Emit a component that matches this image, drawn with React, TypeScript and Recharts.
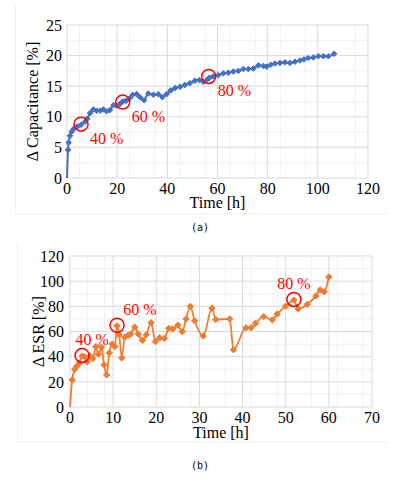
import { LineChart, Line, XAxis, YAxis, CartesianGrid, ReferenceDot } from 'recharts';

// (a) capacitance change vs time
const capTime = [
  0, 0.4, 0.7, 1.2, 1.9, 2.8, 4.1, 5.6, 7.2, 8.1, 9.2, 10.5, 11.8, 13.2, 14.5, 15.8, 17.1, 18.5, 19.8, 21.1,
  22.2, 23.5, 24.9, 26.2, 27.8, 29.1, 30.7, 32.4, 34.4, 36.4, 38.0, 39.7, 41.3, 43.1, 45.1, 47.0, 49.0, 51.0,
  52.8, 54.4, 56.0, 56.8, 58.3, 60.3, 62.3, 64.3, 66.3, 68.3, 70.3, 72.3, 74.3, 76.3, 78.3, 79.6, 81.2, 82.9,
  84.9, 86.9, 88.9, 90.9, 92.9, 94.5, 96.2, 98.2, 100.2, 102.2, 104.2, 106.5,
];
const capValue = [
  0, 4.6, 5.8, 6.9, 7.6, 8.1, 8.4, 8.7, 9.2, 9.7, 10.6, 11.2, 11.0, 11.0, 11.2, 10.9, 11.1, 11.9, 11.8, 12.1,
  12.5, 12.6, 13.0, 13.6, 13.7, 13.2, 12.7, 13.8, 13.6, 13.7, 13.2, 13.7, 14.3, 14.7, 14.9, 15.2, 15.5, 15.9,
  16.0, 15.7, 16.1, 16.4, 16.6, 16.8, 17.1, 17.2, 17.4, 17.5, 17.8, 17.8, 17.9, 18.4, 18.3, 18.2, 18.5, 18.7,
  18.8, 18.9, 18.8, 19.0, 19.2, 19.4, 19.6, 19.7, 19.9, 19.9, 19.9, 20.3,
];
const capXTicks = [0, 20, 40, 60, 80, 100, 120];
const capYTicks = [0, 5, 10, 15, 20, 25];
const capMinorX = [5, 10, 15, 25, 30, 35, 45, 50, 55, 65, 70, 75, 85, 90, 95, 105, 110, 115];
const capMinorY = [2.5, 7.5, 12.5, 17.5, 22.5];
const capNotes = [
  { t: 5.6, v: 8.8, text: '40 %' },
  { t: 22.2, v: 12.4, text: '60 %' },
  { t: 56.5, v: 16.6, text: '80 %' },
];

// (b) ESR change vs time
const esrTime = [
  0, 0.5, 1.1, 1.6, 2.2, 2.8, 3.4, 4.0, 4.7, 5.3, 6.0, 6.6, 7.3, 7.9, 8.5, 9.1, 9.8, 10.4, 10.9, 11.4, 12.0,
  12.7, 13.5, 14.1, 15.0, 15.8, 16.8, 17.7, 18.8, 19.8, 20.8, 21.9, 22.9, 23.8, 25.0, 26.0, 26.9, 27.9, 28.9,
  30.9, 32.9, 33.8, 37.0, 37.9, 40.8, 42.0, 43.0, 44.9, 46.9, 48.0, 50.0, 51.9, 52.9, 55.0, 57.0, 58.0, 58.9, 60.0,
];
const esrValue = [
  0, 21.5, 30, 32.5, 35, 40.5, 40, 36, 40.5, 38.5, 48, 42, 47.5, 33.5, 25.5, 43, 50, 48, 64.5, 57.5, 39,
  55.5, 57, 58, 63.5, 58, 53, 57.5, 67, 52, 55, 54.5, 62.5, 62, 65, 60, 70, 80, 68.5,
  56.5, 78.5, 69.5, 70, 45.5, 63, 63, 66.5, 71.8, 69.3, 73.8, 80.2, 85, 78, 81.6, 88.3, 93, 91.6, 103.3,
];
const esrXTicks = [0, 10, 20, 30, 40, 50, 60, 70];
const esrYTicks = [0, 20, 40, 60, 80, 100, 120];
const esrMinorX = [2, 4, 6, 8, 12, 14, 16, 18, 22, 24, 26, 28, 32, 34, 36, 38, 42, 44, 46, 48, 52, 54, 56, 58, 62, 64, 66, 68];
const esrMinorY = [10, 30, 50, 70, 90, 110];
const esrNotes = [
  { t: 2.8, v: 41, text: '40 %', dx: 10 },
  { t: 10.9, v: 65, text: '60 %', dx: 23 },
  { t: 51.9, v: 85.5, text: '80 %', dx: 0 },
];

const capData = capTime.map((t, i) => ({ t, v: capValue[i] }));
const esrData = esrTime.map((t, i) => ({ t, v: esrValue[i] }));

const SERIF = '"Liberation Serif", "Times New Roman", "DejaVu Serif", serif';
const tickStyle = { fill: '#000', fontSize: 16 };
const labelStyle = { fill: '#000', fontSize: 16 };

function diamond(color: string, s: number) {
  return (props: any) => {
    const { cx, cy, index } = props;
    if (index === 0 || cx == null) return <g key={`d-${index}`} />;
    return (
      <path
        key={`d-${index}`}
        d={`M${cx},${cy - s}L${cx + s},${cy}L${cx},${cy + s}L${cx - s},${cy}Z`}
        fill={color}
        stroke={color}
        strokeWidth={1}
      />
    );
  };
}

// red annotation text placed relative to the circle centre
function note(text: string, dx: number, dy: number, anchor: 'start' | 'middle') {
  return (props: any) => {
    const vb = props.viewBox || {};
    const cx = vb.x + vb.width / 2;
    const cy = vb.y + vb.height / 2;
    return (
      <text x={cx + dx} y={cy + dy} textAnchor={anchor} fill="#FF0000" fontSize={16}>
        {text}
      </text>
    );
  };
}

function Caption({ text, top }: { text: string; top: number }) {
  return (
    <div
      style={{
        position: 'absolute',
        left: 0,
        width: 400,
        top,
        textAlign: 'center',
        fontFamily: '"DejaVu Sans Mono", monospace',
        fontSize: 10,
        color: '#000',
      }}
    >
      {text}
    </div>
  );
}

export default function App() {
  return (
    <div style={{ position: 'absolute', left: 0, top: 0, width: 394, height: 478, background: '#fff' }}>
      <style>{`.plot text { font-family: ${SERIF}; font-weight: normal; }`}</style>
      <div style={{ position: 'absolute', left: 15, top: 4, width: 372, height: 209, borderLeft: '1px solid #F0F0F0', borderBottom: '1px solid #F0F0F0' }} />
      <div style={{ position: 'absolute', left: 17, top: 244, width: 370, height: 198, borderLeft: '1px solid #F0F0F0', borderBottom: '1px solid #F0F0F0' }} />

      <div className="plot" style={{ position: 'absolute', left: 0, top: 0 }}>
        <LineChart width={394} height={240} data={capData} margin={{ top: 25, right: 26, left: 0, bottom: 32 }}>
          <CartesianGrid stroke="#F0F0F0" verticalValues={capMinorX} horizontalValues={capMinorY} />
          <CartesianGrid stroke="#D9D9D9" />
          <XAxis
            dataKey="t"
            type="number"
            domain={[0, 120]}
            ticks={capXTicks}
            axisLine={false}
            tickLine={false}
            tickSize={0}
            tickMargin={5}
            height={30}
            tick={tickStyle}
            label={{ value: 'Time [h]', position: 'insideBottom', offset: 0, style: labelStyle }}
          />
          <YAxis
            dataKey="v"
            type="number"
            domain={[0, 25]}
            ticks={capYTicks}
            axisLine={false}
            tickLine={false}
            tickSize={0}
            tickMargin={5}
            width={67}
            tick={tickStyle}
            label={{ value: 'Δ Capacitance [%]', angle: -90, position: 'insideLeft', offset: 32, style: { ...labelStyle, textAnchor: 'middle' } }}
          />
          <Line
            dataKey="v"
            type="monotone"
            stroke="#4472C4"
            strokeWidth={2}
            dot={diamond('#4472C4', 2.8)}
            isAnimationActive={false}
          />
          {capNotes.map((n) => (
            <ReferenceDot
              key={n.text}
              x={n.t}
              y={n.v}
              r={7}
              fill="none"
              stroke="#FF0000"
              strokeWidth={1.5}
              label={{ content: note(n.text, 9, 20, 'start') }}
            />
          ))}
        </LineChart>
      </div>
      <Caption text="(a)" top={222} />

      <div className="plot" style={{ position: 'absolute', left: 0, top: 240 }}>
        <LineChart width={394} height={238} data={esrData} margin={{ top: 16, right: 22, left: 0, bottom: 41 }}>
          <CartesianGrid stroke="#F0F0F0" verticalValues={esrMinorX} horizontalValues={esrMinorY} />
          <CartesianGrid stroke="#D9D9D9" />
          <XAxis
            dataKey="t"
            type="number"
            domain={[0, 70]}
            ticks={esrXTicks}
            axisLine={false}
            tickLine={false}
            tickSize={0}
            tickMargin={5}
            height={30}
            tick={tickStyle}
            label={{ value: 'Time [h]', position: 'insideBottom', offset: -1, style: labelStyle }}
          />
          <YAxis
            dataKey="v"
            type="number"
            domain={[0, 120]}
            ticks={esrYTicks}
            axisLine={false}
            tickLine={false}
            tickSize={0}
            tickMargin={6}
            width={70}
            tick={tickStyle}
            label={{ value: 'Δ ESR [%]', angle: -90, position: 'insideLeft', offset: 38, style: { ...labelStyle, textAnchor: 'middle' } }}
          />
          <Line
            dataKey="v"
            type="monotone"
            stroke="#ED7D31"
            strokeWidth={1.8}
            dot={diamond('#ED7D31', 3.2)}
            isAnimationActive={false}
          />
          {esrNotes.map((n) => (
            <ReferenceDot
              key={n.text}
              x={n.t}
              y={n.v}
              r={7}
              fill="none"
              stroke="#FF0000"
              strokeWidth={1.5}
              label={{ content: note(n.text, n.dx, -10, 'middle') }}
            />
          ))}
        </LineChart>
      </div>
      <Caption text="(b)" top={460} />
    </div>
  );
}
